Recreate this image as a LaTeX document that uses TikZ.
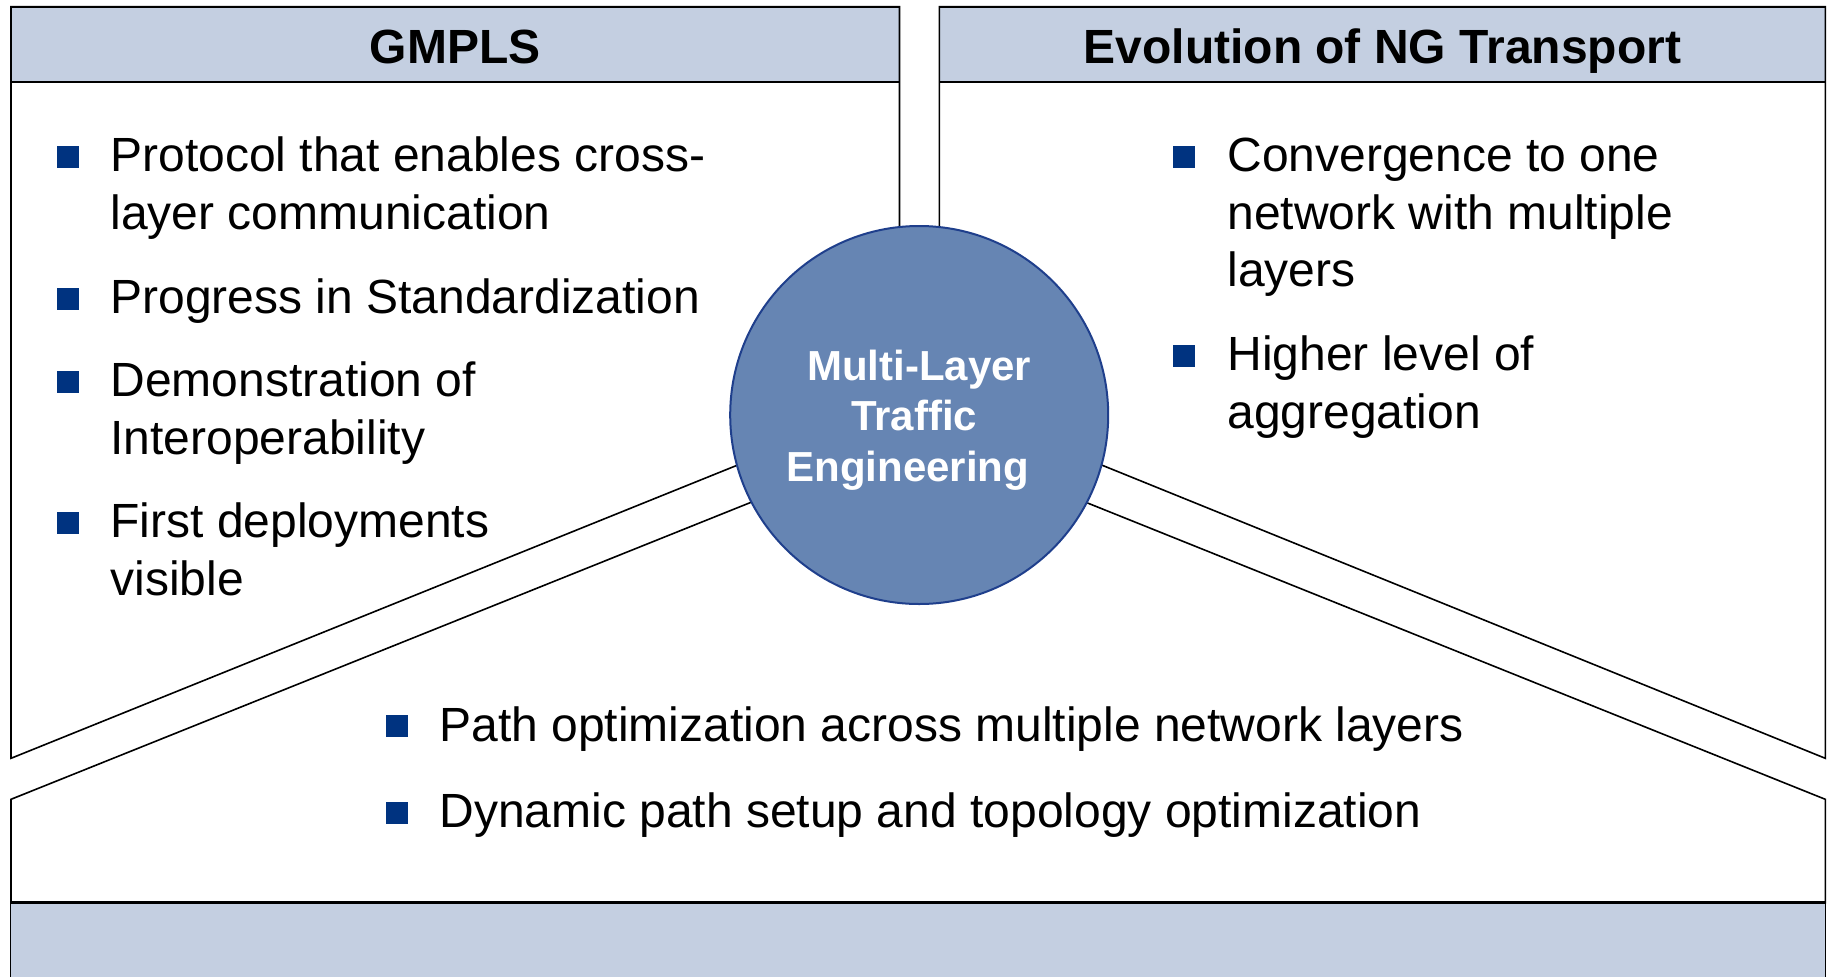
\documentclass[tikz,border=0pt]{standalone}
\usepackage{fontspec}
\setmainfont{Liberation Sans}
\usetikzlibrary{calc}
\definecolor{hdr}{HTML}{C4CFE1}
\definecolor{circfill}{HTML}{6685B3}
\definecolor{circline}{HTML}{1F3F8C}
\definecolor{bul}{HTML}{003380}
\tikzset{
  outl/.style={draw=black, line width=0.8pt, line join=miter},
  body/.style={anchor=base west, inner sep=0pt, font=\fontsize{24}{28}\selectfont},
  hdrtext/.style={anchor=base, inner sep=0pt, font=\fontsize{24}{28}\selectfont\bfseries},
  circtext/.style={anchor=base, inner sep=0pt, text=white, font=\fontsize{21}{25}\selectfont\bfseries},
  bulletbox/.style={fill=bul, minimum size=11pt, inner sep=0pt, draw=none, rectangle},
}
\begin{document}
\begin{tikzpicture}[x=0.5pt, y=-0.5pt]
\useasboundingbox (0,0) rectangle (1827,976);
\fill[white] (0,0) rectangle (1827,976);

% key coordinates
\coordinate (LT) at (11,6.7);
\coordinate (LR) at (899.5,6.7);
\coordinate (RL) at (939.3,6.7);
\coordinate (RT) at (1825.3,6.7);
\coordinate (LUs) at (11,758.3);
\coordinate (LUe) at (736,465.7);
\coordinate (LLs) at (11,799.3);
\coordinate (LLe) at (750,502.7);
\coordinate (RUs) at (1825.3,758.3);
\coordinate (RUe) at (1103.3,465.7);
\coordinate (RLs) at (1825.3,799.3);
\coordinate (RLe) at (1088.3,503.3);
\coordinate (BL) at (11,902.7);
\coordinate (BR) at (1825.3,902.7);

% header boxes
\filldraw[outl, fill=hdr] (11,6.7) rectangle (899.5,81.7);
\filldraw[outl, fill=hdr] (939.3,6.7) rectangle (1825.3,81.7);

% left panel outline
\draw[outl] ($(LUs)!1.03!(LUe)$) -- (LUs) -- (LT) -- (LR) -- (899.5,300);
% right panel outline
\draw[outl] (939.3,300) -- (RL) -- (RT) -- (RUs) -- ($(RUs)!1.03!(RUe)$);
% bottom panel outline
\draw[outl] ($(LLs)!1.03!(LLe)$) -- (LLs) -- (BL) -- (BR) -- (RLs) -- ($(RLs)!1.03!(RLe)$);

% bottom band
\filldraw[fill=hdr, draw=black, line width=0.6pt] (10.5,902.7) rectangle (1825.5,990);
\draw[line width=1.3pt] (BL) -- (BR);

% central circle
\node[circle, minimum size=189pt, inner sep=0pt, fill=circfill, draw=circline, line width=1pt] (circ) at (919.2,415) {};
\node[circtext] (c1) at (919.2,380) {Multi-Layer};
\node[circtext] (c2) at (914.2,430.7) {Traffic};
\node[circtext] (c3) at (907.8,481) {Engineering};

% headers
\node[hdrtext] (h1) at (455.2,63) {GMPLS};
\node[hdrtext] (h2) at (1382.3,63) {Evolution of NG Transport};

% left column
\node[bulletbox] (lb1) at (68,157) {};
\node[body] (l1a) at (110,171) {Protocol that enables cross-};
\node[body] (l1b) at (110,229) {layer communication};
\node[bulletbox] (lb2) at (68,299) {};
\node[body] (l2a) at (110,313) {Progress in Standardization};
\node[bulletbox] (lb3) at (68,382) {};
\node[body] (l3a) at (110,396) {Demonstration of};
\node[body] (l3b) at (110,454) {Interoperability};
\node[bulletbox] (lb4) at (68,523) {};
\node[body] (l4a) at (110,537) {First deployments};
\node[body] (l4b) at (110,595) {visible};

% right column
\node[bulletbox] (rb1) at (1184,157) {};
\node[body] (r1a) at (1227,171) {Convergence to one};
\node[body] (r1b) at (1227,229) {network with multiple};
\node[body] (r1c) at (1227,286) {layers};
\node[bulletbox] (rb2) at (1184,356) {};
\node[body] (r2a) at (1227,370) {Higher level of};
\node[body] (r2b) at (1227,428) {aggregation};

% bottom
\node[bulletbox] (bb1) at (397,726) {};
\node[body] (b1) at (439,741) {Path optimization across multiple network layers};
\node[bulletbox] (bb2) at (397,813) {};
\node[body] (b2) at (439,827) {Dynamic path setup and topology optimization};
\end{tikzpicture}
\end{document}
